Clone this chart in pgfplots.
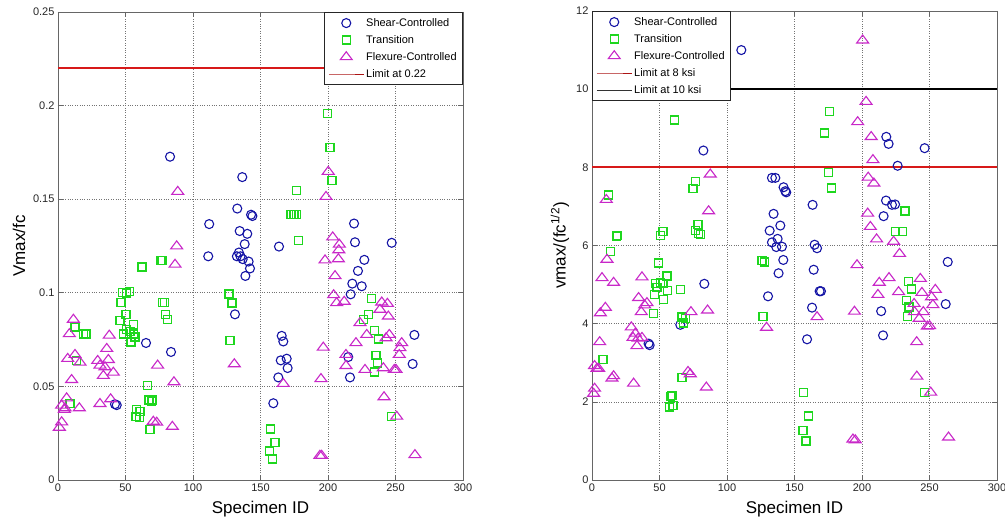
\documentclass[border=0pt]{standalone}
\usepackage{fontspec}
\setmainfont{Liberation Sans}
\usepackage{pgfplots}
\pgfplotsset{compat=1.18}

\definecolor{shearc}{RGB}{20,20,165}
\definecolor{transc}{RGB}{30,215,30}
\definecolor{flexc}{RGB}{200,40,200}
\definecolor{limred}{RGB}{215,25,25}

\pgfplotsset{
  mlab/.style={
    width=405pt, height=468pt, scale only axis,
    xmin=0, xmax=300, xtick={0,50,...,300},
    grid=major,
    major grid style={dotted, black!55, line width=0.6pt},
    axis line style={black!60, line width=0.8pt},
    tick align=inside, major tick length=5pt,
    tick style={black!60, line width=0.6pt},
    xtick pos=both, ytick pos=both,
    ticklabel style={font=\fontsize{11}{13}\selectfont, text=black!85},
    /pgf/number format/assume math mode=true,
    label style={font=\fontsize{17}{20}\selectfont},
    xlabel={Specimen ID},
    xlabel style={at={(axis description cs:0.5,-0.062)}, anchor=center},
    legend style={font=\fontsize{11}{13}\selectfont, draw=black!85,
      line width=0.7pt, inner sep=4pt, row sep=3.5pt, cells={anchor=west}},
    legend image code/.code={\draw[mark repeat=2,mark phase=2,#1]
      plot coordinates {(0pt,0pt) (17.5pt,0pt) (35pt,0pt)};},
  },
  shear/.style={only marks, mark=o, mark size=4.5pt, shearc, line width=1.1pt},
  trans/.style={only marks, mark=square, mark size=4pt, transc, line width=1.3pt},
  flex/.style={only marks, mark=triangle, mark size=5.3pt, flexc, line width=1.1pt,
    mark options={xscale=1.3}},
}

\begin{document}
\begin{tikzpicture}
\path[use as bounding box] (0pt,0pt) rectangle (1005pt,522pt);

% left: Vmax/fc
\begin{axis}[mlab, at={(58pt,42pt)}, anchor=south west,
  ymin=0, ymax=0.25, ytick={0,0.05,...,0.25},
  scaled y ticks=false,
  yticklabel style={/pgf/number format/fixed, /pgf/number format/precision=2},
  ylabel={Vmax/fc},
  ylabel style={at={(axis description cs:-0.096,0.5)}, anchor=center},
  legend style={at={(1,1)}, anchor=north east}]
\addplot[shear] coordinates {
(42.2,0.0405) (43.5,0.040) (65.2,0.0732) (83.7,0.0684) (83,0.1727) (111.3,0.1195)
(112,0.1367) (131.1,0.0885) (132.8,0.145) (132.5,0.1195) (134,0.1215) (135.2,0.1195)
(134.6,0.133) (136.5,0.1618) (136.8,0.118) (138.3,0.126) (138.8,0.109) (140.2,0.1315)
(141.2,0.1167) (142.2,0.113) (143,0.1417) (144,0.141) (163.7,0.1247) (159.5,0.041)
(163.2,0.0548) (165.7,0.077) (166.9,0.074) (165,0.0639) (169.4,0.0648) (170.1,0.0598)
(219.3,0.137) (220,0.127) (226.9,0.1176) (222.2,0.1117) (218,0.1049) (225,0.1035)
(216.8,0.0992) (215,0.0657) (216.3,0.0548) (247.2,0.1267) (264,0.0775) (262.7,0.062)
};
\addplot[trans] coordinates {
(8.9,0.0407) (12.6,0.0817) (13.8,0.0637) (18.7,0.078) (20.7,0.078) (45.9,0.0853)
(46.7,0.0949) (47.9,0.1003) (50.9,0.0999) (52.8,0.1006) (50.4,0.0883) (50.9,0.0803)
(53.3,0.0794) (48.4,0.078) (55.8,0.083) (55.8,0.078) (57,0.0764) (54.1,0.0737)
(62.2,0.1138) (76,0.1174) (77,0.1174) (77.5,0.0949) (78.8,0.0949) (79.5,0.0883)
(81,0.0857) (66.4,0.0505) (67.4,0.0428) (69.4,0.0419) (70.1,0.0428) (58.3,0.0375)
(60.7,0.0366) (57.8,0.0339) (60.2,0.0334) (68.1,0.0271) (126.7,0.0994) (128.9,0.0946)
(127.4,0.0744) (157.5,0.0273) (160.7,0.020) (156.5,0.0155) (158.8,0.0112) (172.6,0.1417)
(174.8,0.1417) (176.8,0.1417) (176.8,0.1546) (178,0.128) (199.5,0.1958) (201.5,0.1776)
(203,0.160) (232.3,0.0969) (229.9,0.0883) (226.2,0.0857) (234.3,0.0798) (237.3,0.0753)
(235.6,0.0664) (236.8,0.0625) (234.3,0.0577) (247.2,0.0339)
};
\addplot[flex] coordinates {
(1,0.028) (2.7,0.0309) (2.7,0.0398) (5.2,0.0384) (4.7,0.0375) (6.4,0.0437) (7.2,0.0648)
(8.4,0.078) (10.1,0.0535) (11.4,0.0857) (12.6,0.0669) (15.8,0.0384) (16.3,0.0628)
(29.4,0.0637) (31.1,0.0407) (31.1,0.0612) (33.6,0.0557) (34.8,0.0603) (36.1,0.0701)
(37.3,0.0642) (38,0.0772) (39,0.0432) (41,0.0574) (70.6,0.0312) (73.1,0.0307)
(73.8,0.0612) (84.7,0.0285) (85.9,0.0523) (86.7,0.1151) (87.9,0.1249) (88.7,0.154)
(130.6,0.0619) (166.9,0.0514) (194,0.013) (195.3,0.013) (194.8,0.054) (196.5,0.0708)
(197.8,0.1174) (198.5,0.1513) (200.2,0.1647) (203.5,0.1297) (204.2,0.0988) (205.2,0.109)
(206.4,0.0946) (207.7,0.118) (208.4,0.1258) (208,0.1228) (212,0.0953) (213.3,0.0669)
(213.3,0.061) (220.7,0.0732) (223.7,0.0839) (227.4,0.0589) (228.7,0.0776) (238.5,0.091)
(239.8,0.0949) (241,0.0598) (241.5,0.0443) (243,0.0758) (244,0.0942) (244.7,0.0874)
(245.4,0.0776) (249.1,0.0589) (250.4,0.0589) (250.9,0.0339) (252.8,0.0669) (253.3,0.0705)
(254.6,0.0732) (264.4,0.0134)
};
\addplot[limred, line width=1.8pt, forget plot] coordinates {(0,0.22) (300,0.22)};
\addlegendimage{limred!80!black, line width=0.8pt}
\legend{Shear-Controlled, Transition, Flexure-Controlled, Limit at 0.22}
\end{axis}

% right: vmax/(fc^1/2)
\begin{axis}[mlab, at={(592pt,42pt)}, anchor=south west, height=469pt,
  ymin=0, ymax=12, ytick={0,2,...,12},
  ylabel={vmax/(fc\textsuperscript{1/2})},
  ylabel style={at={(axis description cs:-0.079,0.5)}, anchor=center},
  legend style={at={(0,1)}, anchor=north west}]
\addplot[shear] coordinates {
(41.9,3.49) (42.7,3.45) (65.4,3.97) (83.2,5.02) (82.5,8.43) (110.6,11.0) (130.4,4.7)
(131.6,6.38) (133.3,7.73) (135.8,7.73) (133.3,6.08) (134.5,6.81) (136.5,5.96) (137.5,6.17)
(138.2,5.29) (139.5,6.51) (140.7,5.97) (141.9,7.49) (143.2,7.39) (143.9,7.36) (141.7,5.63)
(159.3,3.6) (163,4.41) (163.4,7.04) (164.2,5.38) (164.9,6.02) (166.7,5.93) (168.6,4.83)
(169.6,4.83) (214.2,4.32) (215.6,3.7) (216,6.75) (218,8.78) (219.7,8.6) (217.8,7.15)
(222.2,7.04) (224.5,7.05) (226.4,8.04) (246.4,8.49) (262,4.5) (263.5,5.58)
};
\addplot[trans] coordinates {
(8.1,3.08) (12.3,7.29) (13.6,5.84) (18,6.24) (18.6,6.26) (45.6,4.26) (46.1,4.75)
(46.9,5.02) (48.1,4.92) (49.4,5.55) (50.6,5.06) (50.6,6.25) (52.6,5.02) (52.6,6.36)
(53.1,4.61) (55.6,5.22) (56,4.85) (57.5,1.87) (58,2.13) (59.3,2.17) (60,1.91) (61.2,9.21)
(65.4,4.88) (66.7,4.17) (66.7,2.62) (67.9,4.02) (69.1,4.13) (74.8,7.46) (76.5,7.63)
(76.5,6.38) (78.5,6.54) (79,6.3) (80.2,6.28) (126,5.62) (127.8,5.58) (126.7,4.18)
(156.8,2.23) (160.5,1.64) (156.3,1.26) (158.5,1.0) (172.2,8.88) (175.3,7.86) (176,9.42)
(177.3,7.47) (224.9,6.36) (230.1,6.35) (231.8,6.88) (234.5,5.08) (236.7,4.89) (232.8,4.6)
(234.9,4.43) (233.9,4.18) (246.4,2.23)
};
\addplot[flex] coordinates {
(1.2,2.21) (1.9,2.34) (1.9,2.92) (3.7,2.85) (4.9,2.85) (5.7,3.53) (6.2,4.27) (7.4,5.17)
(9.9,4.41) (10.6,7.17) (11.1,5.64) (14.8,2.6) (16,2.66) (16,5.05) (29.1,3.91) (30.4,3.64)
(30.8,2.47) (32.1,3.75) (33.3,3.43) (34.1,3.62) (34.5,4.66) (36.5,4.3) (37,5.19) (37,3.64)
(39,4.47) (40.7,4.53) (71.1,2.77) (72.8,2.71) (73.3,4.3) (84.7,2.37) (85.6,4.34) (86.4,6.88)
(87.6,7.82) (129.3,3.9) (166.7,4.17) (193.3,1.04) (195,1.02) (194.4,4.31) (196.3,5.5)
(196.8,9.16) (200.5,11.25) (203,9.68) (204.2,6.82) (204.6,7.74) (206.2,6.48) (206.8,8.78)
(208.1,8.19) (208.8,7.59) (210.8,6.16) (211.8,4.74) (212.8,5.05) (220,5.17) (223.4,6.1)
(227.1,4.81) (227.8,5.79) (238.6,4.51) (238.9,4.3) (240.5,3.53) (240.6,2.65) (242.4,4.13)
(243.2,5.15) (244.4,4.79) (245.4,4.3) (248.4,3.93) (250.1,3.94) (250.9,2.24) (251.5,4.68)
(252.5,4.48) (254.3,4.87) (264.1,1.09)
};
\addplot[limred, line width=1.8pt, forget plot] coordinates {(0,8) (300,8)};
\addplot[black, line width=1.4pt, forget plot] coordinates {(0,10) (300,10)};
\addlegendimage{limred!80!black, line width=0.8pt}
\addlegendimage{black!80, line width=0.8pt}
\legend{Shear-Controlled, Transition, Flexure-Controlled, Limit at 8 ksi, Limit at 10 ksi}
\end{axis}
\end{tikzpicture}
\end{document}
